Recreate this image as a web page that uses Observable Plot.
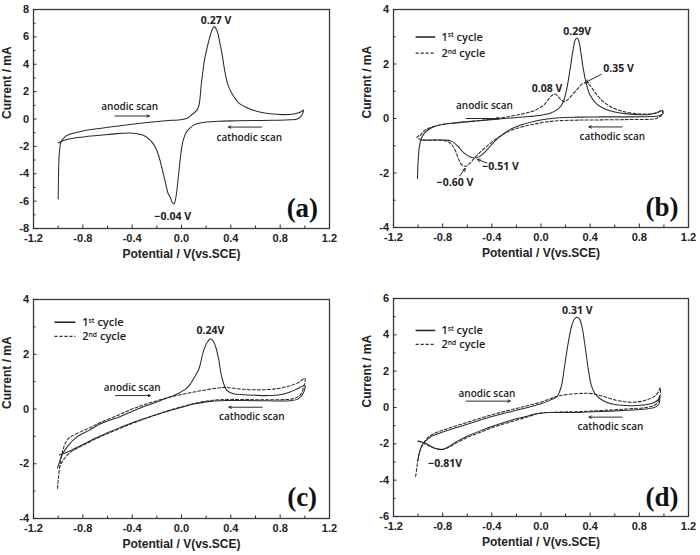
<!DOCTYPE html>
<html><head><meta charset="utf-8">
<script src="https://cdn.jsdelivr.net/npm/d3@7"></script>
<script src="https://cdn.jsdelivr.net/npm/@observablehq/plot@0.6"></script>
<style>
html,body{margin:0;padding:0;background:#fff}
#wrap{position:relative;width:700px;height:555px;background:#fff;overflow:hidden}
.panel{position:absolute}
</style>
</head><body>
<div id="wrap"></div>
<script>
// ---------- axis ticks ----------
const xMajor = [-1.2,-0.8,-0.4,0.0,0.4,0.8,1.2];
const xMinor = [-1.0,-0.6,-0.2,0.2,0.6,1.0];
const yMajorA = [-8,-6,-4,-2,0,2,4,6,8], yMinorA = [-7,-5,-3,-1,1,3,5,7];
const yMajorBC = [-4,-2,0,2,4], yMinorBC = [-3,-1,1,3];
const yMajorD = [-6,-4,-2,0,2,4,6], yMinorD = [-5,-3,-1,1,3,5];
const xTitle = "Potential / V(vs.SCE)";
const yTitle = "Current / mA";

// ---------- series: [potential V, current mA] ----------
const a_cycle = [[-1.0,-5.85],[-0.998,-4.6],[-0.995,-3.3],[-0.99,-2.4],[-0.982,-1.85],[-0.97,-1.55],[-0.95,-1.35],[-0.93,-1.2],[-0.87,-1.02],[-0.8,-0.87],[-0.65,-0.68],[-0.53,-0.53],[-0.4,-0.38],[-0.26,-0.24],[-0.13,-0.13],[-0.01,-0.05],[0.04,0.03],[0.094,0.39],[0.125,0.65],[0.14,0.95],[0.15,1.5],[0.16,2.5],[0.175,3.6],[0.19,4.5],[0.21,5.3],[0.23,6.0],[0.25,6.55],[0.265,6.75],[0.28,6.6],[0.297,6.2],[0.31,5.6],[0.324,5.0],[0.35,3.55],[0.37,2.7],[0.39,2.2],[0.43,1.55],[0.47,1.12],[0.55,0.75],[0.634,0.51],[0.72,0.38],[0.82,0.32],[0.9,0.35],[0.95,0.45],[0.975,0.57],[0.988,0.65],[0.985,0.45],[0.965,0.15],[0.94,0.0],[0.88,-0.06],[0.75,-0.09],[0.6,-0.11],[0.45,-0.13],[0.3,-0.16],[0.2,-0.22],[0.15,-0.3],[0.1,-0.45],[0.07,-0.65],[0.04,-0.95],[0.015,-1.5],[0.0,-2.2],[-0.015,-3.3],[-0.03,-4.6],[-0.045,-5.7],[-0.06,-6.2],[-0.075,-6.1],[-0.09,-5.75],[-0.108,-5.45],[-0.135,-4.47],[-0.175,-3.0],[-0.2,-2.3],[-0.23,-1.8],[-0.27,-1.42],[-0.31,-1.19],[-0.36,-1.07],[-0.418,-1.02],[-0.526,-1.07],[-0.66,-1.19],[-0.795,-1.31],[-0.93,-1.5],[-1.0,-1.75]];

const b_cycle1 = [[-1.005,-2.2],[-1.0,-1.6],[-0.99,-1.05],[-0.97,-0.7],[-0.93,-0.45],[-0.85,-0.27],[-0.7,-0.16],[-0.5,-0.08],[-0.3,0.0],[-0.1,0.07],[0.0,0.12],[0.08,0.2],[0.14,0.35],[0.18,0.6],[0.21,1.1],[0.24,1.9],[0.26,2.5],[0.28,2.9],[0.295,2.95],[0.31,2.8],[0.325,2.4],[0.345,1.8],[0.37,1.25],[0.4,0.85],[0.45,0.55],[0.52,0.35],[0.6,0.24],[0.7,0.17],[0.8,0.14],[0.88,0.15],[0.94,0.2],[0.985,0.28],[0.99,0.18],[0.96,0.1],[0.9,0.07],[0.7,0.06],[0.5,0.06],[0.3,0.05],[0.15,0.03],[0.05,-0.02],[-0.05,-0.1],[-0.15,-0.22],[-0.25,-0.4],[-0.33,-0.65],[-0.4,-0.95],[-0.46,-1.25],[-0.5,-1.4],[-0.54,-1.45],[-0.58,-1.4],[-0.63,-1.25],[-0.68,-1.0],[-0.73,-0.83],[-0.8,-0.79],[-0.9,-0.79],[-0.97,-0.8]];
const b_cycle2 = [[-0.98,-0.62],[-0.95,-0.45],[-0.9,-0.33],[-0.8,-0.22],[-0.6,-0.12],[-0.4,-0.02],[-0.25,0.08],[-0.15,0.17],[-0.05,0.3],[0.02,0.48],[0.06,0.7],[0.09,0.85],[0.11,0.9],[0.13,0.85],[0.16,0.7],[0.19,0.62],[0.22,0.7],[0.26,0.9],[0.3,1.1],[0.34,1.28],[0.37,1.3],[0.4,1.2],[0.44,0.95],[0.5,0.65],[0.57,0.42],[0.65,0.28],[0.75,0.19],[0.85,0.16],[0.93,0.2],[0.99,0.3],[0.99,0.18],[0.95,0.02],[0.88,-0.03],[0.7,-0.04],[0.5,-0.05],[0.3,-0.06],[0.15,-0.08],[0.05,-0.12],[-0.05,-0.2],[-0.15,-0.3],[-0.25,-0.45],[-0.35,-0.7],[-0.45,-1.05],[-0.52,-1.35],[-0.57,-1.6],[-0.61,-1.75],[-0.64,-1.72],[-0.67,-1.5],[-0.7,-1.15],[-0.74,-0.9],[-0.8,-0.8],[-0.9,-0.8],[-0.97,-0.78],[-1.01,-0.7],[-1.0,-0.65],[-0.98,-0.62]];

const c_cycle1 = [[-1.005,-2.15],[-0.99,-1.95],[-0.97,-1.7],[-0.93,-1.4],[-0.85,-1.03],[-0.75,-0.78],[-0.657,-0.54],[-0.5,-0.28],[-0.387,-0.06],[-0.3,0.1],[-0.17,0.31],[-0.035,0.55],[0.04,0.75],[0.073,0.92],[0.11,1.2],[0.14,1.45],[0.18,2.14],[0.21,2.45],[0.235,2.56],[0.255,2.5],[0.275,2.3],[0.3,1.85],[0.32,1.3],[0.34,0.95],[0.37,0.67],[0.42,0.56],[0.48,0.53],[0.6,0.5],[0.7,0.49],[0.8,0.52],[0.88,0.62],[0.94,0.74],[1.0,0.86],[0.99,0.6],[0.95,0.38],[0.88,0.3],[0.7,0.3],[0.5,0.31],[0.35,0.31],[0.2,0.26],[0.1,0.18],[0.0,0.06],[-0.1,-0.06],[-0.2,-0.2],[-0.3,-0.35],[-0.4,-0.5],[-0.5,-0.68],[-0.6,-0.87],[-0.7,-1.07],[-0.8,-1.3],[-0.9,-1.52],[-0.95,-1.62],[-0.99,-1.68]];
const c_cycle2 = [[-1.005,-2.9],[-1.0,-2.6],[-0.99,-2.2],[-0.975,-1.75],[-0.955,-1.4],[-0.93,-1.15],[-0.9,-1.02],[-0.85,-0.9],[-0.75,-0.7],[-0.65,-0.48],[-0.5,-0.2],[-0.4,0.0],[-0.3,0.16],[-0.2,0.3],[-0.1,0.43],[0.0,0.53],[0.1,0.62],[0.2,0.7],[0.3,0.77],[0.35,0.79],[0.42,0.76],[0.5,0.72],[0.6,0.7],[0.7,0.71],[0.8,0.76],[0.88,0.85],[0.95,0.97],[1.0,1.12],[0.99,0.8],[0.96,0.5],[0.9,0.37],[0.8,0.34],[0.6,0.34],[0.4,0.35],[0.25,0.32],[0.12,0.22],[0.0,0.08],[-0.1,-0.05],[-0.2,-0.2],[-0.3,-0.36],[-0.4,-0.53],[-0.5,-0.71],[-0.6,-0.9],[-0.7,-1.1],[-0.8,-1.33],[-0.88,-1.52],[-0.93,-1.7],[-0.97,-1.95],[-0.99,-2.15]];

const d_cycle1 = [[-1.0,-2.9],[-0.99,-2.5],[-0.97,-2.1],[-0.94,-1.85],[-0.9,-1.62],[-0.8,-1.35],[-0.7,-1.13],[-0.6,-0.92],[-0.5,-0.7],[-0.4,-0.5],[-0.3,-0.32],[-0.2,-0.15],[-0.1,0.02],[0.0,0.2],[0.08,0.42],[0.13,0.6],[0.15,0.85],[0.17,1.3],[0.19,2.2],[0.22,3.5],[0.25,4.5],[0.275,4.9],[0.295,4.97],[0.315,4.85],[0.335,4.4],[0.36,3.3],[0.385,2.1],[0.41,1.2],[0.44,0.75],[0.5,0.4],[0.57,0.2],[0.65,0.12],[0.75,0.1],[0.85,0.15],[0.92,0.28],[0.955,0.45],[0.965,0.65],[0.96,0.2],[0.93,0.02],[0.85,-0.08],[0.7,-0.15],[0.5,-0.22],[0.3,-0.27],[0.15,-0.27],[0.05,-0.28],[-0.03,-0.33],[-0.1,-0.45],[-0.2,-0.62],[-0.3,-0.82],[-0.4,-1.05],[-0.5,-1.3],[-0.6,-1.58],[-0.68,-1.85],[-0.74,-2.1],[-0.79,-2.28],[-0.83,-2.3],[-0.88,-2.2],[-0.93,-2.0],[-0.97,-1.9],[-1.0,-1.85]];
const d_cycle2 = [[-1.02,-3.8],[-1.01,-3.3],[-1.0,-2.8],[-0.98,-2.3],[-0.95,-1.9],[-0.9,-1.55],[-0.8,-1.25],[-0.7,-1.03],[-0.6,-0.82],[-0.5,-0.6],[-0.4,-0.4],[-0.3,-0.22],[-0.2,-0.05],[-0.1,0.12],[0.0,0.3],[0.08,0.5],[0.15,0.65],[0.25,0.74],[0.35,0.78],[0.42,0.76],[0.5,0.62],[0.6,0.42],[0.7,0.3],[0.78,0.3],[0.85,0.4],[0.92,0.6],[0.955,0.85],[0.97,1.1],[0.965,0.5],[0.93,0.15],[0.85,0.0],[0.7,-0.08],[0.5,-0.16],[0.3,-0.23],[0.15,-0.25],[0.05,-0.28],[-0.03,-0.35],[-0.1,-0.5],[-0.2,-0.7],[-0.3,-0.9],[-0.4,-1.12],[-0.5,-1.38],[-0.6,-1.65],[-0.68,-1.92],[-0.74,-2.15],[-0.79,-2.3],[-0.83,-2.3],[-0.88,-2.2],[-0.93,-2.05],[-0.98,-1.9],[-1.01,-1.85]];

// ---------- annotations (data units) ----------
const a_peaks = [{x:0.28,y:7.2,t:"0.27 V"},{x:-0.07,y:-7.1,t:"\u22120.04 V"}];
const a_scans = [{x:-0.42,y:0.9,t:"anodic scan"},{x:0.55,y:-1.35,t:"cathodic scan"}];
const a_arrows = [{x1:-0.54,y1:0.22,x2:-0.26,y2:0.22},{x1:0.65,y1:-0.59,x2:0.38,y2:-0.59}];

const b_peaks = [{x:0.295,y:3.2,t:"0.29V"},{x:0.05,y:1.1,t:"0.08 V"},{x:0.63,y:1.83,t:"0.35 V"},{x:-0.33,y:-1.78,t:"\u22120.51 V"},{x:-0.7,y:-2.37,t:"\u22120.60 V"}];
const b_scans = [{x:-0.46,y:0.47,t:"anodic scan"},{x:0.58,y:-0.68,t:"cathodic scan"}];
const b_arrows = [{x1:-0.61,y1:0.0,x2:-0.34,y2:0.0},{x1:0.66,y1:-0.31,x2:0.39,y2:-0.31}];
const b_pointers = [{x1:0.49,y1:1.62,x2:0.36,y2:1.32},{x1:-0.44,y1:-1.63,x2:-0.52,y2:-1.5},{x1:-0.66,y1:-2.1,x2:-0.615,y2:-1.83}];

const c_peaks = [{x:0.235,y:2.87,t:"0.24V"}];
const c_scans = [{x:-0.4,y:0.77,t:"anodic scan"},{x:0.57,y:-0.3,t:"cathodic scan"}];
const c_arrows = [{x1:-0.535,y1:0.49,x2:-0.25,y2:0.49},{x1:0.654,y1:0.065,x2:0.384,y2:0.065}];

const d_peaks = [{x:0.295,y:5.34,t:"0.31 V"},{x:-0.78,y:-3.07,t:"\u22120.81V"}];
const d_scans = [{x:-0.44,y:0.75,t:"anodic scan"},{x:0.565,y:-1.08,t:"cathodic scan"}];
const d_arrows = [{x1:-0.61,y1:0.35,x2:-0.25,y2:0.35},{x1:0.66,y1:-0.53,x2:0.39,y2:-0.53}];

const legendLabels = ["1st cycle","2nd cycle"];

const panels = [
  {tag:"(a)", left:0, top:0, w:350, h:278, mt:9, mr:21, mb:50, ml:33, y:[-8,8], yMajor:yMajorA, yMinor:yMinorA,
   series:[{d:a_cycle, dash:null}], peaks:a_peaks, scans:a_scans, arrows:a_arrows, pointers:[], legend:null, tagPos:{x:0.98,y:-6.5}},
  {tag:"(b)", left:350, top:0, w:350, h:278, mt:9, mr:12, mb:51, ml:43, y:[-4,4], yMajor:yMajorBC, yMinor:yMinorBC,
   series:[{d:b_cycle1, dash:null},{d:b_cycle2, dash:"3,2"}], peaks:b_peaks, scans:b_scans, arrows:b_arrows, pointers:b_pointers,
   legend:{x1:-1.02,x2:-0.86,xt:-0.81,ys:[2.99,2.4]}, tagPos:{x:0.985,y:-3.25}},
  {tag:"(c)", left:0, top:278, w:350, h:277, mt:21, mr:21, mb:37, ml:33, y:[-4,4], yMajor:yMajorBC, yMinor:yMinorBC,
   series:[{d:c_cycle1, dash:null},{d:c_cycle2, dash:"3,2"}], peaks:c_peaks, scans:c_scans, arrows:c_arrows, pointers:[],
   legend:{x1:-1.03,x2:-0.86,xt:-0.805,ys:[3.17,2.65]}, tagPos:{x:0.978,y:-3.22}},
  {tag:"(d)", left:350, top:278, w:350, h:277, mt:20, mr:12, mb:39, ml:43, y:[-6,6], yMajor:yMajorD, yMinor:yMinorD,
   series:[{d:d_cycle1, dash:null},{d:d_cycle2, dash:"3,2"}], peaks:d_peaks, scans:d_scans, arrows:d_arrows, pointers:[],
   legend:{x1:-1.02,x2:-0.86,xt:-0.81,ys:[4.24,3.47]}, tagPos:{x:0.985,y:-4.94}}
];

const INK = "#2b2b2b";
const wrap = document.getElementById("wrap");

for (const p of panels) {
  const marks = [];
  for (const s of p.series) {
    marks.push(Plot.line(s.d, {x: d => d[0], y: d => d[1], stroke: INK, strokeWidth: 1.05, strokeDasharray: s.dash, curve: "catmull-rom"}));
  }
  marks.push(Plot.frame({stroke: "#3a3a3a", strokeWidth: 1.3}));
  marks.push(Plot.axisX({ticks: xMajor, tickSize: -3.5, tickPadding: 9.5, tickFormat: d => d.toFixed(1), fontSize: 11, fontWeight: "bold", fill: "#222", label: null}));
  marks.push(Plot.axisX({ticks: xMinor, tickSize: -2.5, tickFormat: () => "", label: null}));
  marks.push(Plot.axisY({ticks: p.yMajor, tickSize: -3.5, tickPadding: 8, tickFormat: d => String(d), fontSize: 11, fontWeight: "bold", fill: "#222", label: null}));
  marks.push(Plot.axisY({ticks: p.yMinor, tickSize: -2.5, tickFormat: () => "", label: null}));
  // axis titles
  marks.push(Plot.text([xTitle], {frameAnchor: "bottom", dy: 29, text: d => d, fontSize: 12, fontWeight: "bold", fill: "#222"}));
  marks.push(Plot.text([yTitle], {frameAnchor: "left", dx: -26, rotate: -90, text: d => d, fontSize: 12, fontWeight: "bold", fill: "#222"}));
  // annotations
  marks.push(Plot.text(p.peaks, {x: "x", y: "y", text: "t", fontFamily: "Open Sans", fontWeight: 700, fontSize: 10.5, fill: "#222"}));
  marks.push(Plot.text(p.scans, {x: "x", y: "y", text: "t", fontFamily: "Open Sans", fontWeight: 600, fontSize: 10, fill: "#222"}));
  marks.push(Plot.arrow(p.arrows, {x1: "x1", y1: "y1", x2: "x2", y2: "y2", stroke: INK, strokeWidth: 1, headLength: 4, headAngle: 50}));
  if (p.pointers.length) marks.push(Plot.arrow(p.pointers, {x1: "x1", y1: "y1", x2: "x2", y2: "y2", stroke: INK, strokeWidth: 1, headLength: 5, headAngle: 50}));
  if (p.legend) {
    const L = p.legend;
    const rows = legendLabels.map((t, i) => ({x1: L.x1, x2: L.x2, xt: L.xt, y: L.ys[i], t}));
    marks.push(Plot.link(rows.slice(0,1), {x1: "x1", x2: "x2", y1: "y", y2: "y", stroke: INK, strokeWidth: 1.6}));
    marks.push(Plot.link(rows.slice(1), {x1: "x1", x2: "x2", y1: "y", y2: "y", stroke: INK, strokeWidth: 1.3, strokeDasharray: "3,2"}));
    marks.push(Plot.text(rows, {x: "xt", y: "y", text: "t", textAnchor: "start", fontFamily: "Open Sans", fontWeight: 600, fontSize: 11, fill: "#222"}));
  }
  marks.push(Plot.text([p.tagPos], {x: "x", y: "y", text: () => p.tag, fontFamily: "Liberation Serif", fontWeight: "bold", fontSize: 27, fill: "#111"}));

  const svg = Plot.plot({
    width: p.w, height: p.h,
    marginTop: p.mt, marginRight: p.mr, marginBottom: p.mb, marginLeft: p.ml,
    x: {domain: [-1.2, 1.2]},
    y: {domain: p.y},
    style: {fontFamily: "'Liberation Sans', Arial, sans-serif", fontSize: "11px", color: "#2b2b2b", background: "white", overflow: "visible"},
    marks
  });
  // superscripts for "1st" / "2nd"
  d3.select(svg).selectAll("text").each(function () {
    const m = /^(\d)(st|nd) (cycle)$/.exec(this.textContent);
    if (!m) return;
    const t = d3.select(this);
    t.text(null);
    t.append("tspan").text(m[1]);
    t.append("tspan").attr("font-size", "0.62em").attr("dy", "-0.45em").text(m[2]);
    t.append("tspan").attr("dy", "0.28em").text(" " + m[3]);
  });
  const div = document.createElement("div");
  div.className = "panel";
  div.style.left = p.left + "px";
  div.style.top = p.top + "px";
  div.appendChild(svg);
  wrap.appendChild(div);
}
</script>
</body></html>
